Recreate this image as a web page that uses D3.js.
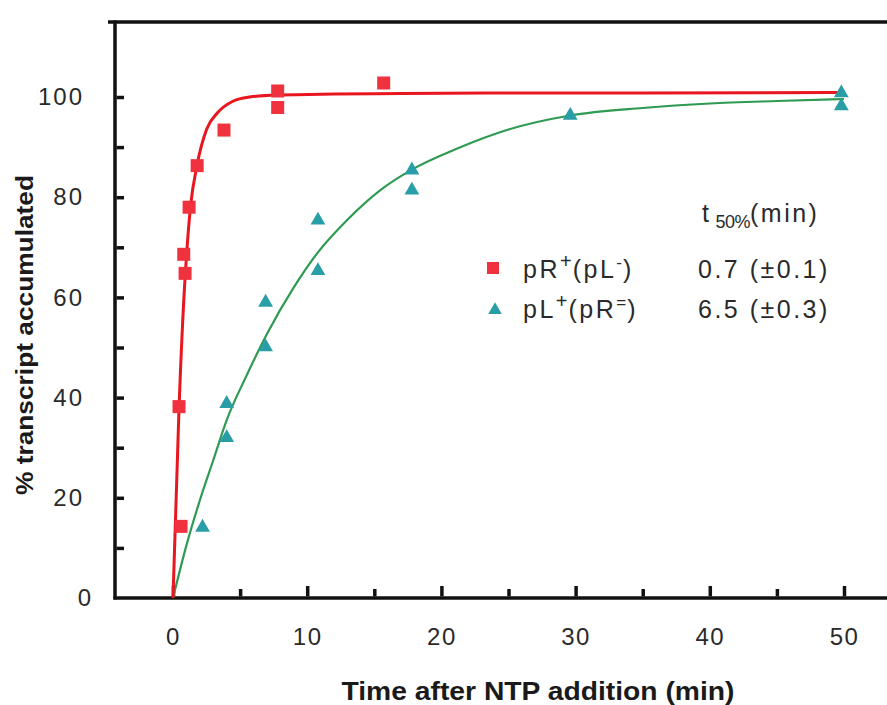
<!DOCTYPE html>
<html>
<head>
<meta charset="utf-8">
<script src="https://cdn.jsdelivr.net/npm/d3@7"></script>
<style>
    body { margin: 0; background: #ffffff; }
    svg { display: block; }
</style>
</head>
<body>
<svg id="svgChart"></svg>
<script>
// DATA /////////////////////////////////////////////////////////////////////////////////

// pR+(pL-) measured points (time in min, % accumulated)
var redTime = [0.45, 0.6, 0.8, 0.9, 1.2, 1.8, 3.8, 7.8, 7.8, 15.7];
var redPct = [38.2, 14.3, 68.6, 64.8, 78, 86.3, 93.4, 101.2, 97.9, 102.8];

// pL+(pR=) measured points
var tealTime = [2.2, 4.0, 4.0, 6.9, 6.9, 10.8, 10.8, 17.8, 17.8, 29.6, 49.8, 49.8];
var tealPct = [14.1, 32, 38.8, 50.1, 59, 65.3, 75.4, 85.4, 81.4, 96.3, 100.8, 98.2];

// fitted curves
var redFitTime = [0, 0.45, 0.9, 1.05, 1.3, 1.8, 2.5, 3.3, 4.5, 5.7, 7.8, 12, 17, 25, 35, 50];
var redFitPct = [0, 38, 64, 70, 78, 86.5, 93.5, 96.8, 99.2, 100, 100.4, 100.6, 100.7, 100.8, 100.8, 100.9];

var tealFitTime = [0, 1, 2, 3, 4, 5.5, 7, 9, 10.8, 13, 15.5, 17.8, 21, 25, 29.6, 35, 40, 45, 50];
var tealFitPct = [0, 10.5, 19.5, 27.5, 35.5, 44.5, 52.7, 62, 69, 75.5, 81.5, 85.5, 89.5, 93.5, 96.3, 97.8, 98.7, 99.2, 99.6];

// axis ticks
var xTicks = [0, 5, 10, 15, 20, 25, 30, 35, 40, 45, 50];
var yTicks = [0, 10, 20, 30, 40, 50, 60, 70, 80, 90, 100];

// legend
var legendNames = [["pR", "+", "(pL", "-", ")"], ["pL", "+", "(pR", "=", ")"]];
var legendHalf = ["0.7 (\u00b10.1)", "6.5 (\u00b10.3)"];

// SETUP ////////////////////////////////////////////////////////////////////////////////

var WIDTH = 887, HEIGHT = 705;
var AXIS_LEFT = 115, AXIS_TOP = 22, AXIS_BOTTOM = 598;
var RED = "#f0323e", RED_LINE = "#e8161e", TEAL = "#2a9ea6", GREEN_LINE = "#2e9a52";
var TICK_FONT = "'Liberation Sans', Arial, sans-serif";

var svg = d3.select('#svgChart')
    .attr('width', WIDTH)
    .attr('height', HEIGHT);

var x = d3.scaleLinear().domain([0, 50]).range([173, 844]);
var y = d3.scaleLinear().domain([0, 100]).range([AXIS_BOTTOM, 97]);

var redPoints = redTime.map(function (t, i) { return { t: t, v: redPct[i] }; });
var tealPoints = tealTime.map(function (t, i) { return { t: t, v: tealPct[i] }; });
var redFit = redFitTime.map(function (t, i) { return { t: t, v: redFitPct[i] }; });
var tealFit = tealFitTime.map(function (t, i) { return { t: t, v: tealFitPct[i] }; });

/////////////////////////////////////////////////////////////////////////////////////////

// frame lines (top, left, bottom)
svg.append("path")
    .attr("d", "M" + 108 + "," + AXIS_TOP + "H" + WIDTH)
    .attr("stroke", "#111").attr("stroke-width", 3.5).attr("fill", "none");
svg.append("path")
    .attr("d", "M" + AXIS_LEFT + "," + (AXIS_TOP - 1.5) + "V" + (AXIS_BOTTOM + 1.5))
    .attr("stroke", "#111").attr("stroke-width", 3.5).attr("fill", "none");
svg.append("path")
    .attr("d", "M" + (AXIS_LEFT - 1.5) + "," + AXIS_BOTTOM + "H" + WIDTH)
    .attr("stroke", "#111").attr("stroke-width", 3.5).attr("fill", "none");

// y axis - ticks point inward, labels every 20
var yAxis = svg.append("g")
    .attr("transform", "translate(" + AXIS_LEFT + ",0)")
    .call(d3.axisLeft(y)
        .tickValues(yTicks)
        .tickSizeInner(-9)
        .tickSizeOuter(0)
        .tickPadding(31)
        .tickFormat(function (d) { return d % 20 === 0 ? d : ""; }));
yAxis.select(".domain").remove();
yAxis.selectAll(".tick line")
    .attr("stroke", "#111")
    .attr("stroke-width", 3.5)
    .attr("x1", 1.5)
    .attr("opacity", function (d) { return d === 0 ? 0 : 1; });
yAxis.selectAll(".tick text")
    .attr("fill", "#2a2a2a")
    .style("font-family", TICK_FONT)
    .style("font-size", "24px")
    .style("letter-spacing", "2px")
    .attr("x", function (d) { return d === 0 ? -22 : -31; });

// x axis - ticks point upward, every 5
var xAxis = svg.append("g")
    .attr("transform", "translate(0," + AXIS_BOTTOM + ")")
    .call(d3.axisBottom(x)
        .tickValues(xTicks)
        .tickSizeInner(-10)
        .tickSizeOuter(0)
        .tickPadding(30)
        .tickFormat(function (d) { return d % 10 === 0 ? d : ""; }));
xAxis.select(".domain").remove();
xAxis.selectAll(".tick line")
    .attr("stroke", "#111")
    .attr("stroke-width", 3.5)
    .attr("y1", -1.5)
    .attr("y2", function (d) { return d % 10 === 0 ? -12 : -9; });
xAxis.selectAll(".tick text")
    .attr("fill", "#2a2a2a")
    .style("font-family", TICK_FONT)
    .style("font-size", "24px")
    .style("letter-spacing", "1.5px");

// axis titles
svg.append("text")
    .attr("x", 538)
    .attr("y", 700)
    .attr("text-anchor", "middle")
    .attr("textLength", 393)
    .attr("lengthAdjust", "spacingAndGlyphs")
    .style("font-family", "'Liberation Sans Narrow', 'Liberation Sans', Arial, sans-serif")
    .style("font-weight", "bold")
    .style("font-size", "25px")
    .attr("fill", "#1a1a1a")
    .text("Time after NTP addition (min)");

svg.append("text")
    .attr("transform", "translate(33,335) rotate(-90)")
    .attr("text-anchor", "middle")
    .attr("textLength", 320)
    .attr("lengthAdjust", "spacingAndGlyphs")
    .style("font-family", "'Liberation Sans', Arial, sans-serif")
    .style("font-weight", "bold")
    .style("font-size", "23px")
    .attr("fill", "#1a1a1a")
    .text("% transcript accumulated");

// fitted curves
var line = d3.line()
    .x(function (d) { return x(d.t); })
    .y(function (d) { return y(d.v); })
    .curve(d3.curveMonotoneX);

svg.append("path")
    .datum(tealFit)
    .attr("d", line)
    .attr("fill", "none")
    .attr("stroke", GREEN_LINE)
    .attr("stroke-width", 2.2);

svg.append("path")
    .datum(redFit)
    .attr("d", line)
    .attr("fill", "none")
    .attr("stroke", RED_LINE)
    .attr("stroke-width", 3);

// markers
var SQ = 13;
svg.append("g")
    .selectAll("rect")
    .data(redPoints)
    .enter().append("rect")
    .attr("x", function (d) { return x(d.t) - SQ / 2; })
    .attr("y", function (d) { return y(d.v) - SQ / 2; })
    .attr("width", SQ)
    .attr("height", SQ)
    .attr("fill", RED);

var tri = d3.symbol().type(d3.symbolTriangle).size(95);
svg.append("g")
    .selectAll("path")
    .data(tealPoints)
    .enter().append("path")
    .attr("transform", function (d) { return "translate(" + x(d.t) + "," + y(d.v) + ")"; })
    .attr("d", tri)
    .attr("fill", TEAL);

// legend
var LEGEND_FONT = "'Liberation Sans', Arial, sans-serif";
var legend = svg.append("g")
    .style("font-family", LEGEND_FONT)
    .attr("fill", "#2a2a2a");

var head = legend.append("text")
    .attr("x", 702)
    .attr("y", 222)
    .style("font-size", "25px")
    .style("letter-spacing", "2.5px");
head.append("tspan").text("t");
head.append("tspan").attr("dx", 4).attr("dy", 6).style("font-size", "18px").style("letter-spacing", "-0.5px").text("50%");
head.append("tspan").attr("dy", -6).text("(min)");

var rows = legend.selectAll("g.row")
    .data(legendNames)
    .enter().append("g")
    .attr("class", "row")
    .attr("transform", function (d, i) { return "translate(0," + (278 + i * 40) + ")"; });

rows.each(function (d, i) {
    var g = d3.select(this);
    if (i === 0) {
        g.append("rect").attr("x", 487).attr("y", -16).attr("width", 12).attr("height", 12).attr("fill", RED);
    } else {
        g.append("path").attr("transform", "translate(495,-8)").attr("d", d3.symbol().type(d3.symbolTriangle).size(80)).attr("fill", TEAL);
    }
    var t = g.append("text")
        .attr("x", 523)
        .style("font-size", "25px")
        .style("letter-spacing", "2.5px");
    d.forEach(function (part, k) {
        var sup = (k % 2 === 1);
        var ts = t.append("tspan").text(part);
        if (sup) {
            ts.attr("dy", -10).style("font-size", part === "+" ? "20px" : "17px").style("letter-spacing", "1px");
        } else if (k > 0) {
            ts.attr("dy", 10);
        }
    });
    g.append("text")
        .attr("x", 698)
        .style("font-size", "25px")
        .style("letter-spacing", "2.5px")
        .text(legendHalf[i]);
});
</script>
</body>
</html>
